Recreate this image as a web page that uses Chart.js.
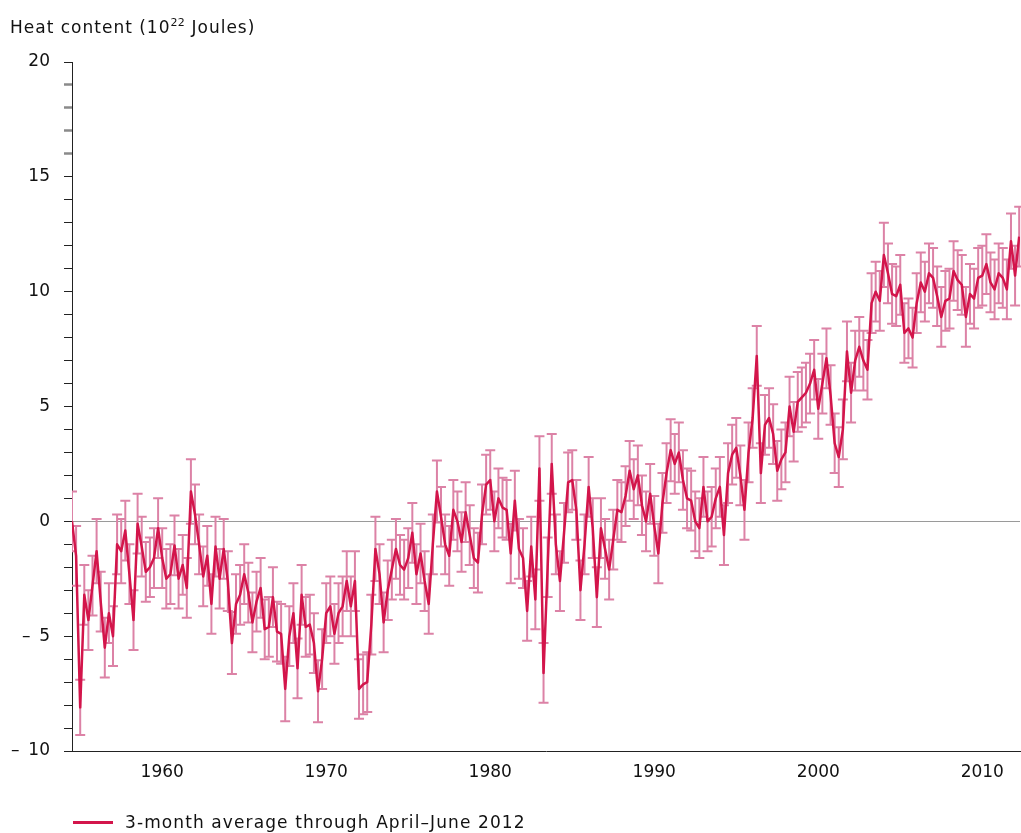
<!DOCTYPE html>
<html>
<head>
<meta charset="utf-8">
<title>Ocean heat content</title>
<script src="https://cdn.jsdelivr.net/npm/chart.js@4.4.1/dist/chart.umd.min.js"></script>
<style>
  html, body { margin: 0; padding: 0; background: #fff; }
  #wrap { position: relative; width: 1021px; height: 833px; font-family: "DejaVu Sans", Verdana, sans-serif; color: #111; }
  #chart { position: absolute; left: 0; top: 0; }
  #title { position: absolute; left: 10px; top: 17px; font-size: 17px; letter-spacing: 1px; white-space: nowrap; }
  #title sup { font-size: 11px; vertical-align: 7px; line-height: 0; letter-spacing: 0.3px; }
  #legend { position: absolute; left: 73px; top: 812px; font-size: 17px; letter-spacing: 1.1px; display: flex; align-items: center; white-space: nowrap; }
  #legend .swatch { width: 40px; height: 3px; background: #d3154b; margin-right: 12px; }
</style>
</head>
<body>
<div id="wrap">
  <canvas id="chart" width="1021" height="833"></canvas>
  <div id="title">Heat content (10<sup>22</sup> Joules)</div>
  <div id="legend"><span class="swatch"></span><span>3-month average through April–June 2012</span></div>
</div>
<script>
// Quarterly (3-month) ocean heat content anomalies, 10^22 J, first sample at 1954.5
const firstSample = 1954.5;
const sampleStep = 0.25;

const heatContent = [
   0.0, -1.5, -8.1, -3.2, -4.3, -2.8, -1.3, -3.5,
  -5.5, -4.0, -5.0, -1.0, -1.3, -0.4, -2.3, -4.3,
  -0.1, -1.1, -2.2, -2.0, -1.6, -0.3, -1.6, -2.5,
  -2.3, -1.05, -2.5, -1.9, -2.9, 1.3, 0.3, -1.0,
  -2.4, -1.5, -3.6, -1.1, -2.5, -1.2, -2.6, -5.3,
  -3.6, -3.2, -2.3, -3.1, -4.4, -3.5, -2.9, -4.7,
  -4.6, -3.3, -4.8, -4.9, -7.3, -5.0, -4.0, -6.4,
  -3.2, -4.6, -4.5, -5.3, -7.4, -6.0, -4.0, -3.7,
  -4.9, -4.0, -3.7, -2.6, -3.7, -2.6, -7.3, -7.1,
  -7.0, -4.5, -1.2, -2.3, -4.4, -3.0, -2.1, -1.2,
  -1.9, -2.1, -1.6, -0.5, -2.3, -1.4, -2.6, -3.6,
  -1.0, 1.3, 0.2, -1.0, -1.5, 0.5, 0.0, -0.9,
   0.4, -0.6, -1.6, -1.8, 0.3, 1.6, 1.8, 0.0,
   1.0, 0.6, 0.5, -1.4, 0.9, -1.2, -1.6, -3.9,
  -1.1, -3.4, 2.3, -6.6, -2.0, 2.5, -1.0, -2.6,
  -0.5, 1.7, 1.8, 0.5, -3.0, -1.0, 1.5, -0.3,
  -3.3, -0.3, -1.2, -2.1, -0.8, 0.5, 0.4, 1.1,
   2.2, 1.4, 2.0, 0.7, 0.0, 1.2, -0.2, -1.4,
   0.8, 2.1, 3.1, 2.5, 3.0, 1.8, 1.0, 0.9,
   0.0, -0.3, 1.5, 0.0, 0.2, 1.0, 1.5, -0.6,
   2.1, 2.9, 3.2, 2.0, 0.5, 3.0, 4.5, 7.2,
   2.1, 4.2, 4.5, 3.8, 2.2, 2.7, 3.0, 5.0,
   3.9, 5.2, 5.4, 5.6, 6.0, 6.6, 4.9, 6.0,
   7.1, 5.5, 3.4, 2.8, 4.0, 7.4, 5.6, 7.0,
   7.6, 7.0, 6.6, 9.5, 10.0, 9.6, 11.6, 10.8,
   9.9, 9.8, 10.3, 8.2, 8.4, 8.0, 9.5, 10.4,
  10.0, 10.8, 10.6, 9.8, 8.9, 9.6, 9.7, 10.9,
  10.5, 10.3, 8.9, 9.9, 9.7, 10.6, 10.7, 11.2,
  10.4, 10.1, 10.8, 10.6, 10.1, 12.2, 10.7, 12.4
];

// Half-width of the uncertainty range for each quarter
const uncertainty = [
  1.3, 1.3, 1.2, 1.3, 1.3, 1.3, 1.4, 1.3,
  1.3, 1.3, 1.3, 1.3, 1.4, 1.3, 1.3, 1.3,
  1.3, 1.3, 1.3, 1.3, 1.3, 1.3, 1.3, 1.3,
  1.3, 1.3, 1.3, 1.3, 1.3, 1.4, 1.3, 1.3,
  1.3, 1.3, 1.3, 1.3, 1.3, 1.3, 1.3, 1.35,
  1.3, 1.3, 1.3, 1.3, 1.3, 1.3, 1.3, 1.3,
  1.3, 1.3, 1.3, 1.3, 1.4, 1.3, 1.3, 1.3,
  1.3, 1.3, 1.3, 1.3, 1.35, 1.3, 1.3, 1.3,
  1.3, 1.3, 1.3, 1.3, 1.3, 1.3, 1.3, 1.3,
  1.3, 1.3, 1.4, 1.3, 1.3, 1.3, 1.3, 1.3,
  1.3, 1.3, 1.3, 1.3, 1.3, 1.3, 1.3, 1.3,
  1.3, 1.35, 1.3, 1.3, 1.3, 1.3, 1.3, 1.3,
  1.3, 1.3, 1.3, 1.3, 1.3, 1.3, 1.3, 1.3,
  1.3, 1.3, 1.3, 1.3, 1.3, 1.3, 1.3, 1.3,
  1.3, 1.3, 1.4, 1.3, 1.3, 1.3, 1.3, 1.3,
  1.3, 1.3, 1.3, 1.3, 1.3, 1.3, 1.3, 1.3,
  1.3, 1.3, 1.3, 1.3, 1.3, 1.3, 1.3, 1.3,
  1.3, 1.3, 1.3, 1.3, 1.3, 1.3, 1.3, 1.3,
  1.3, 1.3, 1.35, 1.3, 1.3, 1.3, 1.3, 1.3,
  1.3, 1.3, 1.3, 1.3, 1.3, 1.3, 1.3, 1.3,
  1.3, 1.3, 1.3, 1.3, 1.3, 1.3, 1.3, 1.3,
  1.3, 1.3, 1.3, 1.3, 1.3, 1.3, 1.3, 1.3,
  1.3, 1.3, 1.3, 1.3, 1.3, 1.3, 1.3, 1.3,
  1.3, 1.3, 1.3, 1.3, 1.3, 1.3, 1.3, 1.3,
  1.3, 1.3, 1.3, 1.3, 1.3, 1.3, 1.4, 1.3,
  1.3, 1.3, 1.3, 1.3, 1.3, 1.3, 1.3, 1.3,
  1.3, 1.3, 1.3, 1.3, 1.3, 1.3, 1.3, 1.3,
  1.3, 1.3, 1.3, 1.3, 1.3, 1.3, 1.3, 1.3,
  1.3, 1.3, 1.3, 1.3, 1.3, 1.2, 1.3, 1.3
];

const xTickYears = [1960, 1970, 1980, 1990, 2000, 2010];
const yRange = { min: -10, max: 20 };
const yLabelStep = 5;

const lineColor = '#d3154b';
const barColor = '#dc82a6';
const axisFont = { family: '"DejaVu Sans", Verdana, sans-serif', size: 17 };

const sampleYear = i => firstSample + i * sampleStep;
const points = heatContent.map((v, i) => ({ x: sampleYear(i), y: v }));

// Uncertainty whiskers with caps, drawn under the line
const errorBars = {
  id: 'errorBars',
  beforeDatasetsDraw(chart) {
    const { ctx, chartArea, scales: { x, y } } = chart;
    ctx.save();
    ctx.beginPath();
    ctx.rect(chartArea.left, 0, chartArea.right - chartArea.left + 1, chart.height);
    ctx.clip();
    ctx.strokeStyle = barColor;
    ctx.lineWidth = 2;
    ctx.beginPath();
    heatContent.forEach((v, i) => {
      const px = x.getPixelForValue(sampleYear(i));
      const top = y.getPixelForValue(v + uncertainty[i]);
      const bot = y.getPixelForValue(v - uncertainty[i]);
      ctx.moveTo(px, top); ctx.lineTo(px, bot);
      ctx.moveTo(px - 5, top); ctx.lineTo(px + 5, top);
      ctx.moveTo(px - 5, bot); ctx.lineTo(px + 5, bot);
    });
    ctx.stroke();
    ctx.restore();
  }
};

new Chart(document.getElementById('chart'), {
  type: 'line',
  data: {
    datasets: [{
      label: '3-month average through April–June 2012',
      data: points,
      borderColor: lineColor,
      borderWidth: 2.5,
      borderJoinStyle: 'round',
      pointRadius: 0,
      tension: 0,
      fill: false
    }]
  },
  options: {
    responsive: false,
    animation: false,
    devicePixelRatio: 1,
    layout: { padding: { top: 62, right: 1, left: 0, bottom: 0 } },
    plugins: { legend: { display: false }, tooltip: { enabled: false } },
    scales: {
      x: {
        type: 'linear',
        min: firstSample,
        max: sampleYear(heatContent.length - 1) + 0.05,
        afterBuildTicks: s => { s.ticks = xTickYears.map(v => ({ value: v })); },
        afterFit: s => { s.height = 82; },
        grid: { display: false, drawTicks: false },
        border: { display: true, color: '#222', width: 1 },
        ticks: {
          padding: 11,
          maxRotation: 0,
          autoSkip: false,
          color: '#111',
          font: axisFont,
          callback: v => String(v)
        }
      },
      y: {
        min: yRange.min,
        max: yRange.max,
        afterFit: s => { s.width = 72; },
        grid: {
          drawTicks: true,
          tickLength: 8,
          color: c => (c.tick && c.tick.value === 0) ? '#9a9a9a' : 'rgba(0,0,0,0)',
          lineWidth: 1,
          tickColor: c => (c.tick && c.tick.value > 15 && c.tick.value < 20) ? '#8a8a8a' : '#222',
          tickWidth: c => (c.tick && c.tick.value > 15 && c.tick.value < 20) ? 2.5 : 1
        },
        border: { display: true, color: '#222', width: 1 },
        ticks: {
          stepSize: 1,
          autoSkip: false,
          padding: 14,
          color: '#111',
          font: axisFont,
          callback: v => (v % yLabelStep === 0) ? (v < 0 ? '\u2013\u2009 ' + Math.abs(v) : String(v)) : ''
        }
      }
    }
  },
  plugins: [errorBars]
});
</script>
</body>
</html>
